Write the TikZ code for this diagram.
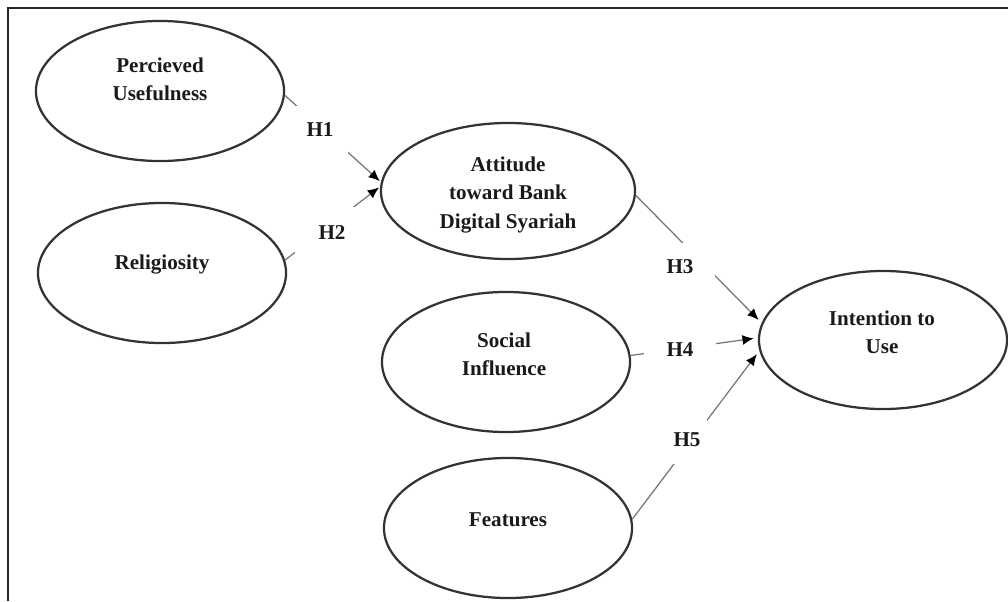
\documentclass[tikz,border=0pt]{standalone}
\usepackage{fontspec}
\setmainfont{Liberation Serif}
\usetikzlibrary{shapes.geometric,arrows.meta}
\definecolor{ellcol}{HTML}{333333}
\definecolor{linecol}{HTML}{787878}
\definecolor{txtcol}{HTML}{1A1A1A}
\begin{document}
\begin{tikzpicture}[x=0.025cm,y=-0.025cm,
  latent/.style={ellipse,draw=ellcol,line width=1.6pt,inner sep=0pt},
  txt/.style={font=\fontsize{15}{20}\selectfont\bfseries,text=txtcol,align=center,inner sep=0pt},
  hyp/.style={fill=white,inner sep=0pt,font=\fontsize{15}{20}\selectfont\bfseries,text=txtcol},
  conn/.style={draw=linecol,line width=0.9pt},
  arr/.style={conn,-{Latex[length=8pt,width=7pt,color=black]}},
  frame/.style={draw=black!85,line width=1.8pt}]
\useasboundingbox (0,0) rectangle (1008,601);
\draw[frame] (8,601) -- (8,8) -- (1008,8);

% latent variables
\node[latent,minimum width=6.2cm,minimum height=3.5cm] (pu) at (160,91) {};
\node[latent,minimum width=6.2cm,minimum height=3.5cm] (rel) at (162,273) {};
\node[latent,minimum width=6.35cm,minimum height=3.4cm] (att) at (508,191) {};
\node[latent,minimum width=6.2cm,minimum height=3.5cm] (soc) at (506,362) {};
\node[latent,minimum width=6.2cm,minimum height=3.5cm] (feat) at (508,528) {};
\node[latent,minimum width=6.2cm,minimum height=3.45cm] (int) at (883,340) {};

% texts
\node[txt] (pu-t) at (160,79) {Percieved\\Usefulness};
\node[txt] (rel-t) at (162,265) {Religiosity};
\node[txt] (att-t) at (508,195) {Attitude\\toward Bank\\Digital Syariah};
\node[txt] (soc-t) at (504,354) {Social\\Influence};
\node[txt] (feat-t) at (508,520) {Features};
\node[txt] (int-t) at (882,332) {Intention to\\Use};

% connectors
\draw[arr,shorten >=1pt] (pu.-2) -- (att.176);
\draw[arr,shorten >=1pt] (rel.6) -- (att.178);
\draw[arr,shorten >=3pt] (att.-2) -- (int.172);
\draw[arr,shorten >=3pt] (soc.3.3) -- (int.179);
\draw[arr,shorten >=3pt] (feat.4.6) -- (int.185.6);

% hypothesis labels
\node[hyp,minimum width=1.4cm,minimum height=1.2cm] (h1) at (320,130) {H1};
\node[hyp,minimum width=1.85cm,minimum height=1.3cm] (h2) at (332,233) {H2};
\node[hyp,minimum width=1.75cm,minimum height=1.2cm] (h3) at (680,267) {H3};
\node[hyp,minimum width=1.8cm,minimum height=0.7cm] (h4) at (680,350) {H4};
\node[hyp,minimum width=1.0cm,minimum height=1.2cm] (h5) at (687,440) {H5};
\end{tikzpicture}
\end{document}
